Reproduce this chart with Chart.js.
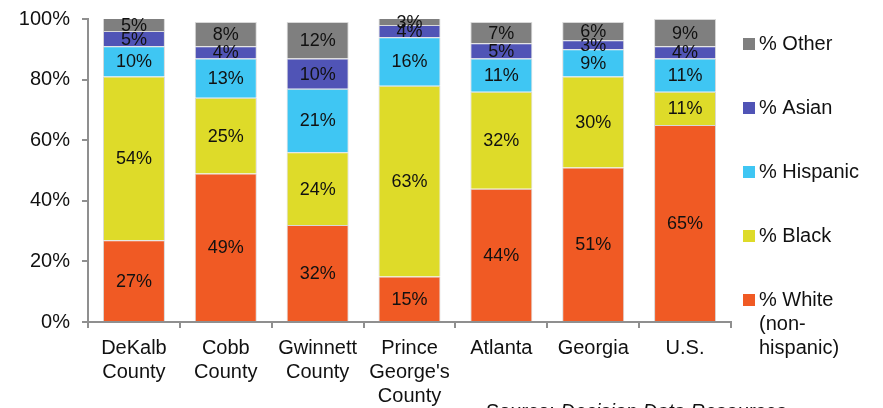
<!DOCTYPE html>
<html>
<head>
<meta charset="utf-8">
<script src="https://cdn.jsdelivr.net/npm/chart.js@4"></script>
<style>
	html, body { margin: 0; padding: 0; background: #fff; }
	#wrap { width: 883px; height: 408px; }
</style>
</head>
<body>
<div id="wrap"><canvas id="chart" width="883" height="408"></canvas></div>
<script>
'use strict';

// 地域ごとの人種構成 (%)
const areas = [
	['DeKalb', 'County'],
	['Cobb', 'County'],
	['Gwinnett', 'County'],
	['Prince', "George's", 'County'],
	'Atlanta',
	'Georgia',
	'U.S.'
];
const white = [27, 49, 32, 15, 44, 51, 65];
const black = [54, 25, 24, 63, 32, 30, 11];
const hispanic = [10, 13, 21, 16, 11, 9, 11];
const asian = [5, 4, 10, 4, 5, 3, 4];
const other = [5, 8, 12, 3, 7, 6, 9];

const seriesNames = [['% White', '(non-', 'hispanic)'], ['% Black'], ['% Hispanic'], ['% Asian'], ['% Other']];
const seriesColors = ['#F05A24', '#DEDB29', '#3FC6F3', '#5054B6', '#7F7F7F'];
const yTicks = [0, 20, 40, 60, 80, 100];

const FONT = '"Liberation Sans", Arial, sans-serif';

let seriesData = [white, black, hispanic, asian, other];
let datasets = [];
for(let i = 0; i < seriesData.length; i++){
	datasets.push({
		label: seriesNames[i].join(' '),
		data: seriesData[i],
		backgroundColor: seriesColors[i],
		borderColor: '#d8d8d8',
		borderWidth: 1,
		barPercentage: 0.675,
		categoryPercentage: 1
	});
}

// 各セグメントの中央に値を書く
const valueLabels = {
	id: 'valueLabels',
	afterDatasetsDraw(chart){
		let ctx = chart.ctx;
		ctx.save();
		ctx.font = '18px ' + FONT;
		ctx.fillStyle = '#111';
		ctx.textAlign = 'center';
		ctx.textBaseline = 'middle';
		chart.data.datasets.forEach((ds, i) => {
			chart.getDatasetMeta(i).data.forEach((bar, j) => {
				let top = Math.max(bar.y, chart.chartArea.top);
				ctx.fillText(ds.data[j] + '%', bar.x, (top + bar.base) / 2 + 1);
			});
		});
		ctx.restore();
	}
};

// 右側の凡例 (上から Other → White)
const sideLegend = {
	id: 'sideLegend',
	afterDraw(chart){
		let ctx = chart.ctx;
		let area = chart.chartArea;
		ctx.save();
		ctx.font = '20px ' + FONT;
		ctx.fillStyle = '#111';
		ctx.textAlign = 'left';
		ctx.textBaseline = 'middle';
		let n = chart.data.datasets.length;
		for(let k = 0; k < n; k++){
			let i = n - 1 - k;
			let y = area.top + 25 + k * 64;
			ctx.fillStyle = chart.data.datasets[i].backgroundColor;
			ctx.fillRect(area.right + 12, y - 6, 12, 12);
			ctx.fillStyle = '#111';
			seriesNames[i].forEach((line, l) => {
				ctx.fillText(line, area.right + 28, y + l * 24);
			});
		}
		// 出典
		ctx.textBaseline = 'alphabetic';
		let sx = 486;
		ctx.fillText('Source: ', sx, 418);
		sx += ctx.measureText('Source: ').width;
		ctx.font = 'italic 20px ' + FONT;
		ctx.fillText('Decision Data Resources', sx, 418);
		ctx.restore();
	}
};

new Chart(document.getElementById('chart').getContext('2d'), {
	type: 'bar',
	data: {
		labels: areas,
		datasets: datasets
	},
	options: {
		responsive: false,
		animation: false,
		layout: {
			padding: { left: 0, top: 19, right: 152, bottom: 0 }
		},
		plugins: {
			legend: { display: false },
			tooltip: { enabled: false }
		},
		scales: {
			x: {
				stacked: true,
				afterFit: (s) => { s.height = 86; },
				border: { color: '#8f8f8f', width: 2 },
				grid: { drawOnChartArea: false, drawTicks: true, tickLength: 6, color: '#8f8f8f', lineWidth: 2 },
				ticks: { color: '#111', font: { family: FONT, size: 20 }, padding: 8, maxRotation: 0, autoSkip: false }
			},
			y: {
				stacked: true,
				min: 0,
				max: 100,
				afterFit: (s) => { s.width = 88; s.paddingTop = 0; s.paddingBottom = 0; },
				afterBuildTicks: (s) => { s.ticks = yTicks.map(v => ({ value: v })); },
				border: { color: '#8f8f8f', width: 2 },
				grid: { drawOnChartArea: false, drawTicks: true, tickLength: 6, color: '#8f8f8f', lineWidth: 2 },
				ticks: {
					color: '#111',
					font: { family: FONT, size: 20 },
					padding: 12,
					callback: (v) => v + '%'
				}
			}
		}
	},
	plugins: [valueLabels, sideLegend]
});
</script>
</body>
</html>
